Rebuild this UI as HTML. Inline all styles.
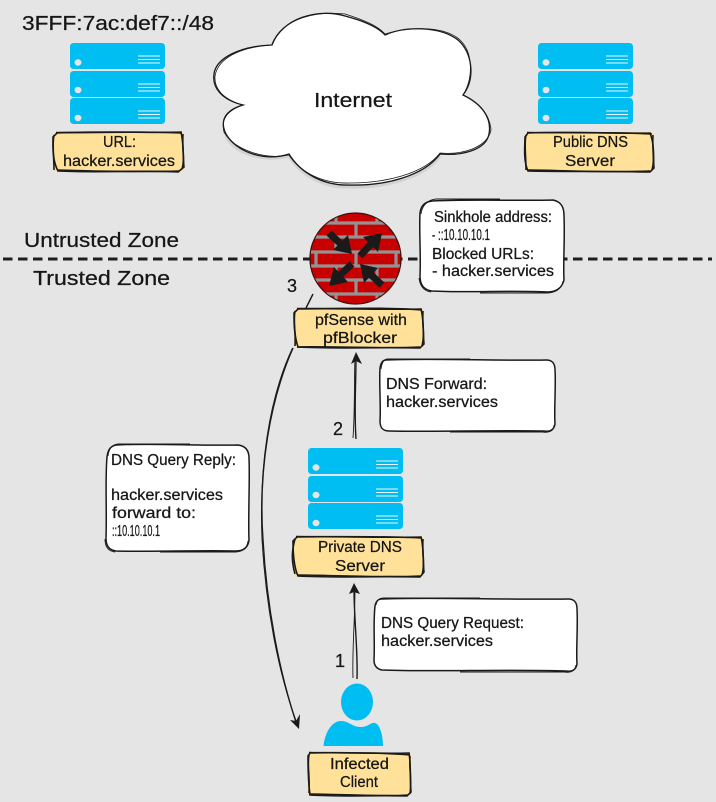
<!DOCTYPE html>
<html><head><meta charset="utf-8"><style>
html,body{margin:0;padding:0;background:#e5e5e5;width:716px;height:802px;overflow:hidden}
svg{display:block}
text{font-family:"Liberation Sans","DejaVu Sans",sans-serif;font-size:15.5px;fill:#161616;stroke:#161616;stroke-width:.25}
.z{font-size:20px}
.srv{fill:#00bef2}
.ln{stroke:#e8f6fb;stroke-width:1.100;fill:none}
.o{fill:none;stroke:#1a1a1a;stroke-width:1.600}
</style></head><body>
<svg width="716" height="802" viewBox="0 0 716 802" xmlns="http://www.w3.org/2000/svg">
<defs>
<g id="server">
<rect x="0" y="0" width="95" height="26" rx="3.5" class="srv"/>
<rect x="0" y="28" width="95" height="26" rx="3.5" class="srv"/>
<rect x="0" y="55" width="95" height="26" rx="3.5" class="srv"/>
<g fill="#e5e5e5"><ellipse cx="8" cy="19.500" rx="3.500" ry="3.200"/><ellipse cx="8" cy="47" rx="3.500" ry="3.200"/><ellipse cx="8" cy="75" rx="3.500" ry="3.200"/></g>
<path class="ln" d="M68 13H90M68 16.500H90M68 20H90M68 41H90M68 44.500H90M68 48H90M68 68H90M68 71.500H90M68 75H90"/>
</g>
<clipPath id="fw"><circle cx="355.500" cy="258.500" r="45"/></clipPath>
</defs>
<rect width="716" height="802" fill="#e5e5e5"/>

<!-- trust boundary -->
<path d="M3 259H712" stroke="#1e1e1e" stroke-width="3" stroke-dasharray="9.500 5.500" fill="none"/>

<!-- cloud -->
<path d="M226 136C232 152 262 163 289 156C300 174 322 188 350 187C385 188 424 178 440 156" fill="none" stroke="#d2d2d2" stroke-width="3"/>
<path d="M272 45C282 18 318 8 345 16C364 21 378 27 385 35C405 26 440 26 458 40C472 52 476 78 463 95C482 104 492 118 489 134C486 150 462 156 440 154C424 176 385 186 350 185C322 186 300 172 289 154C265 162 236 152 226 134C219 120 226 110 243 105C222 100 212 88 214 74C216 58 240 46 272 45Z" fill="#fff" stroke="#1a1a1a" stroke-width="1.300"/>
<path d="M272 44C283 17 318 11 345 14C364 20 378 26 385 34C405 28 440 24 459 39C474 52 473 79 463 95C484 105 490 118 491 130C487 148 462 155 440 153C424 174 385 183 350 183C322 184 300 172 289 155C265 160 234 150 224 132C221 120 226 111 243 105C222 99 214 88 215 76C218 58 240 47 272 45" fill="none" stroke="#1a1a1a" stroke-width=".8"/>

<!-- servers -->
<use href="#server" x="70" y="43"/>
<use href="#server" x="538" y="43"/>
<use href="#server" x="308" y="448"/>

<!-- label boxes -->
<g fill="#ffe199">
<rect x="53" y="132" width="131" height="40" rx="3"/>
<rect x="525" y="132" width="129" height="40" rx="3"/>
<rect x="294" y="309" width="130" height="39" rx="3"/>
<rect x="294" y="537" width="130" height="40" rx="3"/>
<rect x="307" y="753" width="104" height="43" rx="3"/>
</g>
<g class="o">
<path d="M57 133C100 131 150 133 181 132C184 145 183 160 184 167L178 172C140 170 100 173 58 171C52 160 53 145 53 137Z"/>
<path d="M56 132.500C100 133 150 131 182 133M183 134C182 150 185 160 182 169M179 171C140 172 90 171 57 170M54 170C54 155 52 145 54 135"/>
<path d="M528 133C570 131 620 134 650 133C655 145 653 160 654 168L650 172C600 171 560 172 528 171C523 160 525 145 525 137Z"/>
<path d="M527 132.500C570 133 620 132 652 134M653 135C652 150 655 160 652 170M650 171C600 173 560 170 527 170M526 170C526 155 524 145 526 135"/>
<path d="M298 309C340 308 390 310 421 309C424 320 423 335 424 344L420 348C380 347 330 349 298 347C294 335 294 322 294 313Z"/>
<path d="M297 308.500C340 309 390 307 422 310M423 311C422 325 425 335 422 346M420 347C380 349 330 346 297 347M295 346C296 332 293 322 295 311"/>
<path d="M297 537C340 536 390 538 421 537C424 548 423 565 424 572L420 577C380 576 330 578 298 576C293 565 293 548 293 541Z"/>
<path d="M296 536.500C340 537 390 536 422 538M423 539C422 553 425 565 422 575M420 576C380 578 330 575 297 575M295 574C291 560 292 550 295 539"/>
<path d="M310 753C340 752 380 754 409 753C411 765 410 780 411 792L407 796C380 795 340 797 310 795C308 780 308 765 308 756Z"/>
<path d="M309 752.500C340 753 380 752 410 755M410 756C409 770 412 780 410 794M408 795C380 797 340 794 309 794M309 793C310 775 307 765 309 755"/>
</g>

<!-- white callouts -->
<g fill="#fff" stroke="#1a1a1a" stroke-width="1.500">
<path d="M432 201C470 199 520 201 553 200C562 202 564 208 564 216C565 240 563 262 564 280C562 288 556 292 548 292C510 290 470 293 432 291C423 290 420 284 420 276C421 255 419 230 420 213C421 205 425 202 432 201Z"/>
<path d="M386 360C430 358 500 361 546 360C553 360 555 364 555 370C556 385 554 410 555 424C554 430 550 432 544 431C500 430 430 432 389 431C382 431 380 427 380 421C381 405 379 385 380 368C381 362 383 360 386 360Z"/>
<path d="M116 445C150 443 200 446 238 445C246 446 249 451 249 458C250 480 248 515 249 540C248 548 243 551 236 551C200 550 150 552 116 551C109 550 106 546 106 538C107 510 105 480 107 457C108 449 111 446 116 445Z"/>
<path d="M382 599C430 597 510 600 568 599C575 599 577 603 577 609C578 625 576 650 577 664C576 670 572 672 566 671C510 669 430 672 382 670C377 669 374 666 374 660C375 640 373 625 375 606C376 601 378 599 382 599Z"/>
</g>
<g fill="none" stroke="#1a1a1a" stroke-width=".9">
<path d="M421 214C422 205 428 200 436 199H500M563 281C562 289 555 293 547 293H480M431 292C424 291 420 287 419 278"/>
<path d="M381 369C382 362 384 359 388 359H470M554 425C554 431 549 433 543 432H450"/>
<path d="M108 456C109 448 112 445 118 444H190M248 541C247 549 242 552 235 552H160M115 552C108 551 105 547 105 539"/>
<path d="M376 605C377 600 379 598 384 598H480M576 665C575 671 571 673 565 672H460"/>
</g>

<!-- firewall -->
<circle cx="355.500" cy="258.500" r="45.500" fill="#c90000" stroke="#3a1212" stroke-width="1.300"/>
<g clip-path="url(#fw)">
<path d="M305 223H406M305 237H406M305 252H406M305 266H406M305 280H406M305 294H406" stroke="#939393" stroke-width="3.200" fill="none"/>
<path d="M336 213V223M377 213V223M316 223V237M356 223V237M396 223V237M336 237V252M377 237V252M316 252V266M356 252V266M396 252V266M336 266V280M377 266V280M316 280V294M356 280V294M396 280V294M336 294V304M377 294V304" stroke="#939393" stroke-width="3.200" fill="none"/>
</g>
<g stroke="#1a1a1a" stroke-width="7" fill="#1a1a1a">
<path d="M329 233L343 246" fill="none"/><path stroke="none" d="M352 254L348 235L333 250Z"/>
<path d="M360 256L373 242" fill="none"/><path stroke="none" d="M382 233L363 237L378 252Z"/>
<path d="M352 264L339 276" fill="none"/><path stroke="none" d="M329 286L348 282L334 267Z"/>
<path d="M382 285L369 273" fill="none"/><path stroke="none" d="M360 264L364 283L378 268Z"/>
</g>

<!-- connectors -->
<g fill="none" stroke="#1a1a1a" stroke-width="1.400">
<path d="M313 294L306 308M293 348C270 400 258 470 263 540C267 610 280 675 297 725"/>
<path d="M292.500 348C268 400 259 470 262 540C266 610 279 675 296.500 722" stroke-width=".9"/>
<path d="M357 679C358 650 354 620 354 588"/>
<path d="M353 678C352 650 355 620 355 588" stroke-width=".9"/>
<path d="M356 439C354 410 356 385 356 356"/>
<path d="M353 438C355 410 354 385 355 356" stroke-width=".9"/>
</g>
<g fill="#1a1a1a">
<path d="M354 583L360 594L354 592L349 594Z"/>
<path d="M356 352L362 364L356 361L351 364Z"/>
<path d="M299 729L290 720L296 721L300 714Z"/>
</g>

<!-- person -->
<ellipse cx="357" cy="702" rx="16" ry="18.500" fill="#00bef2"/>
<path d="M323.500 746C325 732 332 721 341 721C349 721 352 727 361 727C368 727 371 722 375 723C380 724 383 736 383 746Z" fill="#00bef2"/>

<!-- text -->
<text class="z" x="22" y="30" textLength="192" lengthAdjust="spacingAndGlyphs">3FFF:7ac:def7::/48</text>
<text class="z" x="314" y="107" textLength="78" lengthAdjust="spacingAndGlyphs">Internet</text>
<text class="z" x="24" y="247" textLength="155" lengthAdjust="spacingAndGlyphs">Untrusted Zone</text>
<text class="z" x="33" y="285" textLength="137" lengthAdjust="spacingAndGlyphs">Trusted Zone</text>
<text x="287" y="292" style="font-size:18px">3</text>
<text x="333" y="435" style="font-size:18px">2</text>
<text x="335" y="667" style="font-size:18px">1</text>

<text x="103" y="147" textLength="33" lengthAdjust="spacingAndGlyphs">URL:</text>
<text x="63" y="166" textLength="112" lengthAdjust="spacingAndGlyphs">hacker.services</text>
<text x="553" y="147" textLength="75" lengthAdjust="spacingAndGlyphs">Public DNS</text>
<text x="565" y="166" textLength="50" lengthAdjust="spacingAndGlyphs">Server</text>
<text x="315" y="325" textLength="92" lengthAdjust="spacingAndGlyphs">pfSense with</text>
<text x="323" y="343" textLength="74" lengthAdjust="spacingAndGlyphs">pfBlocker</text>
<text x="318" y="552" textLength="84" lengthAdjust="spacingAndGlyphs">Private DNS</text>
<text x="335" y="571" textLength="50" lengthAdjust="spacingAndGlyphs">Server</text>
<text x="330" y="769" textLength="59" lengthAdjust="spacingAndGlyphs">Infected</text>
<text x="340" y="787" textLength="38" lengthAdjust="spacingAndGlyphs">Client</text>

<text x="434" y="222" textLength="118" lengthAdjust="spacingAndGlyphs">Sinkhole address:</text>
<text x="432" y="240" textLength="58" lengthAdjust="spacingAndGlyphs">- ::10.10.10.1</text>
<text x="432" y="259" textLength="102" lengthAdjust="spacingAndGlyphs">Blocked URLs:</text>
<text x="432" y="276" textLength="122" lengthAdjust="spacingAndGlyphs">- hacker.services</text>

<text x="386" y="389" textLength="101" lengthAdjust="spacingAndGlyphs">DNS Forward:</text>
<text x="386" y="407" textLength="112" lengthAdjust="spacingAndGlyphs">hacker.services</text>

<text x="111" y="465" textLength="125" lengthAdjust="spacingAndGlyphs">DNS Query Reply:</text>
<text x="111" y="500" textLength="112" lengthAdjust="spacingAndGlyphs">hacker.services</text>
<text x="112" y="518" textLength="84" lengthAdjust="spacingAndGlyphs">forward to:</text>
<text x="112" y="536" textLength="48" lengthAdjust="spacingAndGlyphs">::10.10.10.1</text>

<text x="381" y="628" textLength="143" lengthAdjust="spacingAndGlyphs">DNS Query Request:</text>
<text x="381" y="646" textLength="112" lengthAdjust="spacingAndGlyphs">hacker.services</text>
</svg>
</body></html>
